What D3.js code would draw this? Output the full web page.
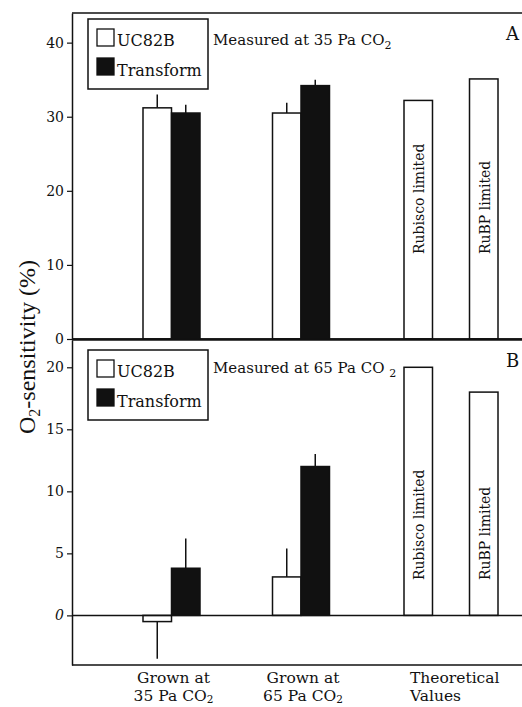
<!DOCTYPE html>
<html>
<head>
<meta charset="utf-8">
<script src="https://cdn.jsdelivr.net/npm/d3@7"></script>
<style>
  body { margin: 0; background: #fff; }
  text { font-family: "DejaVu Serif", "Liberation Serif", serif; fill: #111; }
</style>
</head>
<body>
<svg id="chart" width="522" height="707"></svg>
<script>
// groups along the x axis
const groups = ["g35", "g65", "theory"];
const xLine1 = ["Grown at", "Grown at", "Theoretical"];
const xLine2 = ["35 Pa CO", "65 Pa CO", "Values"];
const xLine2Sub = ["2", "2", ""];

const series = ["UC82B", "Transform"];

// panel A (measured at 35 Pa CO2)
const ucA = [31.2, 30.5];
const ucErrA = [1.8, 1.4];
const trA = [30.5, 34.2];
const trErrA = [1.1, 0.8];

// panel B (measured at 65 Pa CO2)
const ucB = [-0.5, 3.1];
const ucErrB = [3.0, 2.3];
const trB = [3.8, 12.0];
const trErrB = [2.4, 1.0];

// theoretical values
const theoryLabels = ["Rubisco limited", "RuBP limited"];
const theoryA = [32.2, 35.1];
const theoryB = [20, 18];

const ticksA = [0, 10, 20, 30, 40];
const ticksB = [0, 5, 10, 15, 20];

const svg = d3.select("#chart");
const left = 72, right = 524;

// group centres
const xGroup = d3.scaleOrdinal().domain(groups).range([171.5, 301, 451]);
const xPair = d3.scaleBand().domain(series).range([-28.5, 28.5]);
const xTheory = d3.scaleBand().domain(theoryLabels).range([-47, 47]).paddingInner(0.565);

function drawPanel(p) {
  const g = svg.append("g");
  const y = d3.scaleLinear().domain(p.domain).range(p.range);

  // bars for measured groups
  const rows = [];
  [0, 1].forEach(function (i) {
    rows.push({ grp: groups[i], s: "UC82B", v: p.uc[i], e: p.ucErr[i] });
    rows.push({ grp: groups[i], s: "Transform", v: p.tr[i], e: p.trErr[i] });
  });

  // error bars first so bars sit on top
  g.selectAll(".err").data(rows).enter().append("line")
    .attr("x1", d => xGroup(d.grp) + xPair(d.s) + xPair.bandwidth() / 2)
    .attr("x2", d => xGroup(d.grp) + xPair(d.s) + xPair.bandwidth() / 2)
    .attr("y1", d => y(d.v))
    .attr("y2", d => y(d.v < 0 ? d.v - d.e : d.v + d.e))
    .style("stroke", "#111")
    .style("stroke-width", 1.5);

  g.selectAll(".bar").data(rows).enter().append("rect")
    .attr("x", d => xGroup(d.grp) + xPair(d.s))
    .attr("width", xPair.bandwidth())
    .attr("y", d => y(Math.max(0, d.v)))
    .attr("height", d => Math.abs(y(d.v) - y(0)))
    .style("fill", d => d.s === "UC82B" ? "#fff" : "#111")
    .style("stroke", "#111")
    .style("stroke-width", 1.5);

  // theoretical bars
  const th = theoryLabels.map((l, i) => ({ l: l, v: p.theory[i] }));
  g.selectAll(".th").data(th).enter().append("rect")
    .attr("x", d => xGroup("theory") + xTheory(d.l))
    .attr("width", xTheory.bandwidth())
    .attr("y", d => y(d.v))
    .attr("height", d => y(0) - y(d.v))
    .style("fill", "#fff")
    .style("stroke", "#111")
    .style("stroke-width", 1.5);

  g.selectAll(".thl").data(th).enter().append("text")
    .attr("transform", d => "translate(" + (xGroup("theory") + xTheory(d.l) + xTheory.bandwidth() / 2 + 6) + "," + p.thTextY + ") rotate(-90)")
    .style("font-size", "14px")
    .text(d => d.l);

  // frame lines
  g.append("line").attr("x1", left).attr("x2", right).attr("y1", y(0)).attr("y2", y(0))
    .style("stroke", "#111").style("stroke-width", 1.5);
  g.append("line").attr("x1", left).attr("x2", right).attr("y1", p.range[0]).attr("y2", p.range[0])
    .style("stroke", "#111").style("stroke-width", 1.5);
  g.append("line").attr("x1", left).attr("x2", right).attr("y1", p.range[1]).attr("y2", p.range[1])
    .style("stroke", "#111").style("stroke-width", 1.5);

  // y axis
  const ax = g.append("g").attr("transform", "translate(" + left + ",0)")
    .call(d3.axisLeft(y).tickValues(p.ticks).tickSizeInner(5).tickSizeOuter(0).tickPadding(3));
  ax.select(".domain").style("stroke", "#111").style("stroke-width", 1.5);
  ax.selectAll(".tick line").style("stroke", "#111").style("stroke-width", 1.2);
  ax.selectAll(".tick text")
    .style("font-size", "14px")
    .style("font-family", "'DejaVu Serif', serif")
    .style("fill", "#111")
    .style("font-style", d => (p.italicZero && d === 0) ? "italic" : "normal");

  // legend
  const lg = g.append("g").attr("transform", "translate(88," + p.legendY + ")");
  lg.append("rect").attr("width", 120).attr("height", 70)
    .style("fill", "#fff").style("stroke", "#111").style("stroke-width", 1.5);
  series.forEach(function (s, i) {
    lg.append("rect").attr("x", 9).attr("y", 10 + i * 29).attr("width", 17).attr("height", 17)
      .style("fill", i === 0 ? "#fff" : "#111").style("stroke", "#111").style("stroke-width", 1.3);
    lg.append("text").attr("x", 29).attr("y", 27 + i * 30)
      .style("font-size", "16px").text(s);
  });

  // annotation
  const an = g.append("text").attr("x", 213).attr("y", p.noteY).style("font-size", "15px");
  an.append("tspan").text(p.note);
  an.append("tspan").attr("dy", 4).style("font-size", "11px").text("2");
  g.append("text").attr("x", 506).attr("y", p.letterY).style("font-size", "18px").text(p.letter);
}

drawPanel({
  domain: [0, 44], range: [339, 13], ticks: ticksA,
  uc: ucA, ucErr: ucErrA, tr: trA, trErr: trErrA, theory: theoryA,
  thTextY: 254, legendY: 19, noteY: 45, note: "Measured at 35 Pa CO", letter: "A", letterY: 40,
  italicZero: false
});

drawPanel({
  domain: [-4, 22.2], range: [665, 340], ticks: ticksB,
  uc: ucB, ucErr: ucErrB, tr: trB, trErr: trErrB, theory: theoryB,
  thTextY: 580, legendY: 350, noteY: 373, note: "Measured at 65 Pa CO ", letter: "B", letterY: 367,
  italicZero: true
});

// x labels
groups.forEach(function (grp, i) {
  const isTheory = grp === "theory";
  const x = isTheory ? xGroup(grp) + xTheory(theoryLabels[0]) + 6 : xGroup(grp) + 2;
  const anchor = isTheory ? "start" : "middle";
  svg.append("text").attr("x", x).attr("y", 683).attr("text-anchor", anchor)
    .style("font-size", "15.5px").text(xLine1[i]);
  const t2 = svg.append("text").attr("x", x).attr("y", 701).attr("text-anchor", anchor)
    .style("font-size", "15.5px");
  t2.append("tspan").text(xLine2[i]);
  if (xLine2Sub[i]) t2.append("tspan").attr("dy", 2).style("font-size", "10.5px").text(xLine2Sub[i]);
});

// y axis title
const yt = svg.append("text")
  .attr("transform", "translate(35,347) rotate(-90)")
  .attr("text-anchor", "middle")
  .style("font-size", "24px")
  .style("font-family", "'Liberation Serif', serif");
yt.append("tspan").text("O");
yt.append("tspan").attr("dy", 5).style("font-size", "16px").text("2");
yt.append("tspan").attr("dy", -5).text("-sensitivity (%)");
</script>
</body>
</html>
